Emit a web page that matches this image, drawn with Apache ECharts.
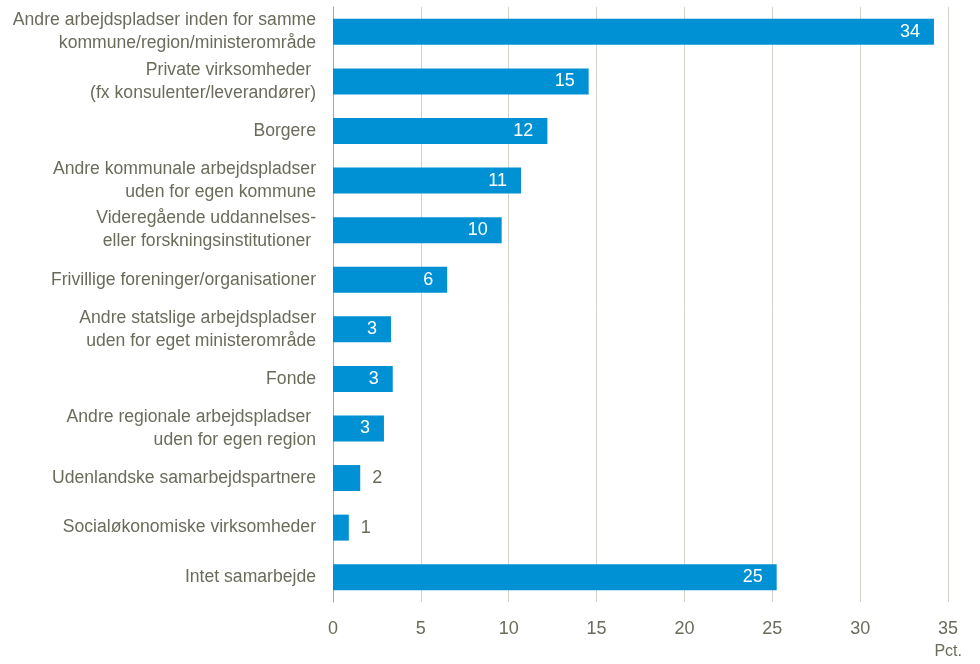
<!DOCTYPE html>
<html><head><meta charset="utf-8">
<script src="https://cdn.jsdelivr.net/npm/echarts@6/dist/echarts.min.js"></script>
<style>html,body{margin:0;padding:0;background:#fff}#c{width:980px;height:664px}</style>
</head><body><div id="c"></div>
<script>
const categories = [
  "Andre arbejdspladser inden for samme\nkommune/region/ministerområde",
  "Private virksomheder \n(fx konsulenter/leverandører)",
  "Borgere",
  "Andre kommunale arbejdspladser\nuden for egen kommune",
  "Videregående uddannelses-\neller forskningsinstitutioner ",
  "Frivillige foreninger/organisationer",
  "Andre statslige arbejdspladser\nuden for eget ministerområde",
  "Fonde",
  "Andre regionale arbejdspladser \nuden for egen region",
  "Udenlandske samarbejdspartnere",
  "Socialøkonomiske virksomheder",
  "Intet samarbejde"
];
const values = [34.2, 14.55, 12.2, 10.7, 9.6, 6.5, 3.3, 3.4, 2.9, 1.55, 0.9, 25.25];
const labels = [34, 15, 12, 11, 10, 6, 3, 3, 3, 2, 1, 25];
const insideLimit = 2.5;
const xTicks = [0, 5, 10, 15, 20, 25, 30, 35];

const FONT = "'Liberation Sans Narrow', 'Arial Narrow', 'Liberation Sans', sans-serif";
const GRAY = '#6b6b5c';
const chart = echarts.init(document.getElementById('c'));
chart.setOption({
  animation: false,
  title: { text: 'Pct.', right: 13, top: 639, textStyle: { fontFamily: FONT, fontSize: 16, fontWeight: 'normal', color: GRAY } },
  grid: { left: 333, right: 32, top: 7, bottom: 62, containLabel: false },
  xAxis: {
    type: 'value', min: xTicks[0], max: xTicks[xTicks.length - 1], interval: 5,
    axisLine: { show: false },
    axisTick: { show: false },
    splitLine: { show: true, lineStyle: { color: '#d3d3cc', width: 1 } },
    axisLabel: { color: GRAY, fontFamily: FONT, fontSize: 18, margin: 18 }
  },
  yAxis: {
    type: 'category', data: categories, inverse: true,
    axisLine: { show: true, lineStyle: { color: '#a8a8a0', width: 1 } },
    axisTick: { show: false },
    axisLabel: { color: GRAY, fontFamily: FONT, fontSize: 17.6, margin: 17, lineHeight: 23, align: 'right' }
  },
  series: [{
    type: 'bar',
    barWidth: 26,
    itemStyle: { color: '#0091d4' },
    data: values.map((v, i) => ({
      value: v,
      label: labels[i] > insideLimit
        ? { show: true, position: 'insideRight', distance: 14, color: '#ffffff', formatter: String(labels[i]) }
        : { show: true, position: 'right', distance: 12, color: GRAY, formatter: String(labels[i]) }
    })),
    label: { fontFamily: FONT, fontSize: 18 }
  }]
});
</script></body></html>
